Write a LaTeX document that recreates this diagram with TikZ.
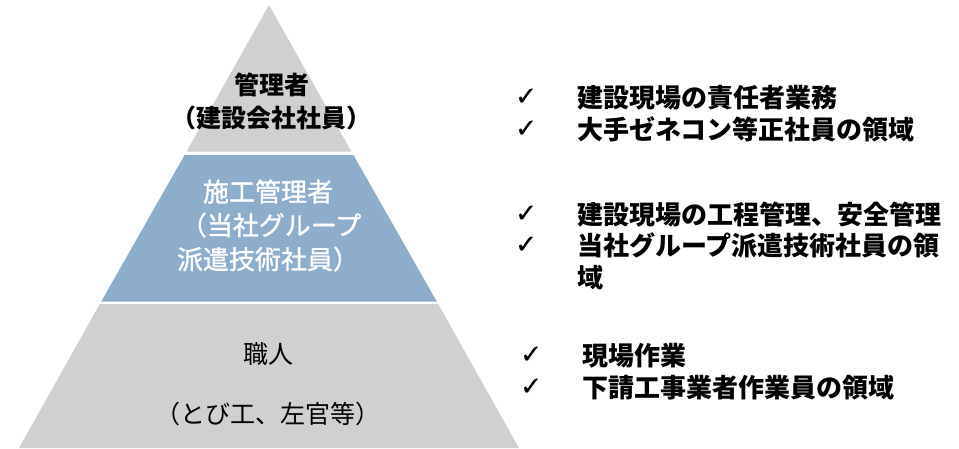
\documentclass[tikz,border=0pt]{standalone}
\usepackage{fontspec}
\setmainfont{Noto Sans CJK JP}
\newfontfamily\cjk{Noto Sans CJK JP}
\newfontfamily\cjkmed[FakeBold=1.2]{Noto Sans CJK JP}
\newfontfamily\symf[FakeBold=0.4]{DejaVu Sans}
\definecolor{tiergray}{RGB}{208,208,211}
\definecolor{tierblue}{RGB}{141,173,204}
\begin{document}
\begin{tikzpicture}[x=1pt,y=-1pt,
  lbl/.style={inner sep=0pt, anchor=base, font=\cjk\fontsize{25}{30}\selectfont},
  rt/.style={inner sep=0pt, anchor=base west, font=\cjk\bfseries\fontsize{26}{30}\selectfont},
  chk/.style={inner sep=0pt, anchor=base west, font=\symf\fontsize{26}{30}\selectfont}]
\useasboundingbox (0,0) rectangle (959,448);
% tiers
\fill[tiergray] (269,5) -- (351.4,151.5) -- (186.6,151.5) -- cycle;
\fill[tierblue] (184.6,155) -- (353.4,155) -- (436.8,301.5) -- (101.2,301.5) -- cycle;
\fill[tiergray] (99.8,304) -- (438.2,304) -- (519,448) -- (19,448) -- cycle;
% tier labels
\node[lbl, font=\cjk\bfseries\fontsize{25}{30}\selectfont] (t1) at (272,94.5) {管理者};
\node[lbl, font=\cjk\bfseries\fontsize{25}{30}\selectfont] (t2) at (271,127) {（建設会社社員）};
\node[lbl, text=white, font=\cjkmed\fontsize{26}{30}\selectfont] (m1) at (268,201.5) {施工管理者};
\node[lbl, text=white, font=\cjkmed\fontsize{26}{30}\selectfont] (m2) at (271,235) {（当社グループ};
\node[lbl, text=white, font=\cjkmed\fontsize{26}{30}\selectfont] (m3) at (268,269) {派遣技術社員）};
\node[lbl] (b1) at (268,363) {職人};
\node[lbl] (b2) at (268,423) {（とび工、左官等）};
% right side
\node[chk] (c1) at (515,105) {✓};
\node[chk] (c2) at (515,137) {✓};
\node[rt] (r1) at (577,107) {建設現場の責任者業務};
\node[rt] (r2) at (577,139) {大手ゼネコン等正社員の領域};
\node[chk] (c3) at (515,222) {✓};
\node[chk] (c4) at (515,253) {✓};
\node[rt] (r3) at (577,224) {建設現場の工程管理、安全管理};
\node[rt] (r4) at (577,255) {当社グループ派遣技術社員の領};
\node[rt] (r5) at (577,287) {域};
\node[chk] (c5) at (520,363) {✓};
\node[chk] (c6) at (520,395) {✓};
\node[rt] (r6) at (582,365) {現場作業};
\node[rt] (r7) at (582,397) {下請工事業者作業員の領域};
\end{tikzpicture}
\end{document}
